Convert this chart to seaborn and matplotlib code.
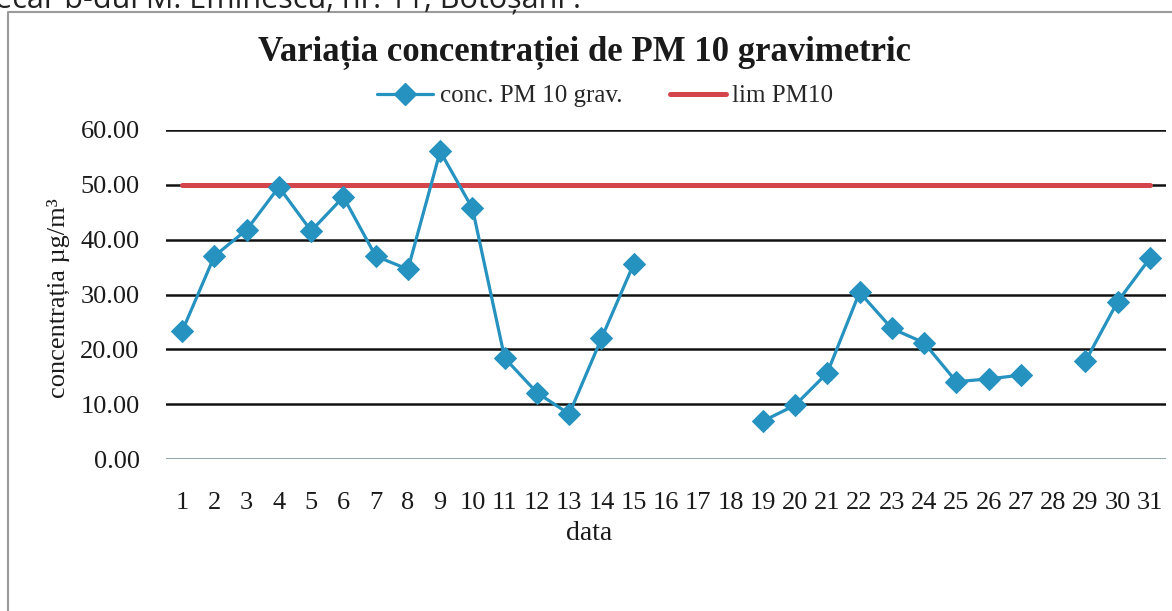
import numpy as np
import pandas as pd
import matplotlib
matplotlib.use("Agg")
import matplotlib.pyplot as plt
from matplotlib.lines import Line2D
import seaborn as sns

# ---- data ----
days = list(range(1, 32))
conc_pm10 = [23.3, 37.0, 41.8, 49.6, 41.6, 47.8, 37.0, 34.6, 56.1, 45.7,
             18.4, 12.1, 8.2, 22.0, 35.6, np.nan, np.nan, np.nan, 6.9, 9.8,
             15.7, 30.4, 23.8, 21.2, 14.1, 14.6, 15.3, np.nan, 17.8, 28.7, 36.6]
lim_pm10 = [50.0] * 31
y_ticks = [0, 10, 20, 30, 40, 50, 60]
title = "Variația concentrației de PM 10 gravimetric"
series_names = ["conc. PM 10 grav.", "lim PM10"]

BLUE = "#2592c0"
RED = "#d4454b"

sns.set_theme(style="white")
plt.rcParams["font.family"] = ["Liberation Serif", "DejaVu Serif"]

df = pd.DataFrame({"day": days, "conc": conc_pm10, "lim": lim_pm10})
# segment ids so that missing days break the line
df["seg"] = df["conc"].isna().cumsum()
dconc = df.dropna(subset=["conc"])

fig = plt.figure(figsize=(11.72, 6.11), dpi=100)
ax = fig.add_axes([166 / 1172, 1 - 459 / 611, 1000 / 1172, 329 / 611])

sns.lineplot(data=df, x="day", y="lim", color=RED, lw=3.6, ax=ax,
             estimator=None, zorder=3)
sns.lineplot(data=dconc, x="day", y="conc", units="seg", estimator=None,
             color=BLUE, lw=2.3, marker="D", markersize=11,
             markeredgecolor=BLUE, ax=ax, zorder=4)

ax.set_xlim(0.5, 31.5)
ax.set_ylim(0, 60)
ax.set_xticks(days)
ax.set_xticklabels([str(d) for d in days])
ax.set_yticks(y_ticks)
ax.set_yticklabels([f"{v:.2f}" for v in y_ticks])
ax.tick_params(axis="both", length=0, labelsize=19, colors="#1a1a1a")
ax.tick_params(axis="y", pad=19)
ax.tick_params(axis="x", pad=24)
for s in ax.spines.values():
    s.set_visible(False)
ax.yaxis.grid(True, color="#111111", lw=1.8)
ax.xaxis.grid(False)
gl = ax.get_ygridlines()
gl[0].set_color("#8fa3a8")
gl[0].set_linewidth(1.4)
ax.set_axisbelow(True)

ax.set_xlabel("data", fontsize=20, color="#1a1a1a")
ax.xaxis.set_label_coords((589 - 166) / 1000, (459 - 521) / 329)
ax.xaxis.label.set_va("top")
ax.set_ylabel("concentrația µg/m³", fontsize=19, color="#1a1a1a")
ax.yaxis.set_label_coords((70 - 166) / 1000, 0.49)

fig.text(585 / 1172, 1 - 52 / 611, title, ha="center", va="center",
         fontsize=25, fontweight="bold", color="#1a1a1a")

handles = [Line2D([], [], color=BLUE, lw=2.3, marker="D", markersize=11),
           Line2D([], [], color=RED, lw=3.6)]
fig.legend(handles, series_names, loc="center", ncol=2,
           bbox_to_anchor=(605 / 1172, 1 - 96 / 611), frameon=False,
           fontsize=18, handlelength=2.25, handletextpad=0.25,
           columnspacing=1.9, borderpad=0.1)

# outer chart frame (cropped) and partial caption text above
fig.add_artist(Line2D([8 / 1172, 8 / 1172, 1.0], [0.0, 1 - 12 / 611, 1 - 12 / 611],
                      transform=fig.transFigure, color="#9a9a9a", lw=1.5))
fig.text(-0.004, 1 - 7 / 611, "ecar b-dul M. Eminescu, nr. 11, Botoșani :",
         ha="left", va="baseline", fontsize=22, family="Open Sans",
         color="#222222")

fig.savefig("out.png", dpi=100)
